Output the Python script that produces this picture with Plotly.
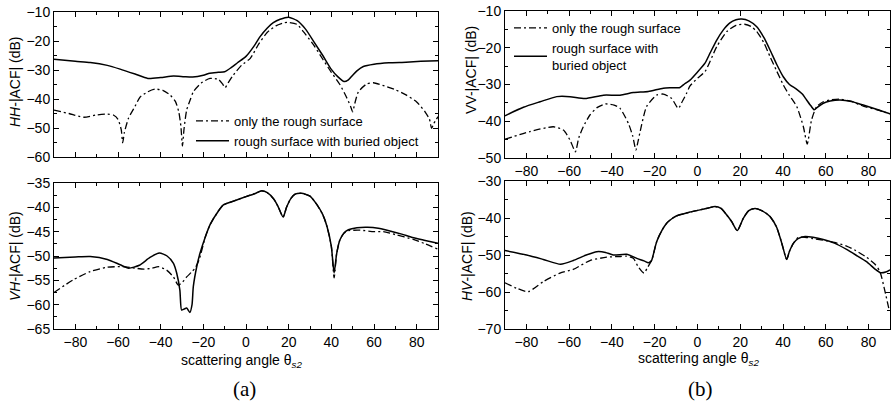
import plotly.graph_objects as go

# ---------------- data ----------------
# (a) top: HH
hh_solid_x = [-90,-80,-73,-65,-59,-52,-46,-40,-34,-29,-25,-20,-17,-13,-10,-7,-4,0,4,6.6,10,12.8,16,20,24,28,32,36,40,43,46,48,50,52,55,60,67,75,82,90]
hh_solid_y = [-26.3,-27.0,-27.4,-28.4,-29.7,-31.4,-32.9,-32.6,-32.1,-32.3,-32.4,-31.8,-31.1,-30.8,-30.6,-29.2,-27.5,-25.3,-21.5,-18.5,-15.5,-13.7,-12.5,-11.8,-13.0,-16.0,-20.5,-25.0,-29.8,-32.3,-34.0,-33.4,-31.8,-30.3,-28.8,-28.0,-27.5,-27.3,-27.0,-26.8]
hh_rough_x = [-90,-83,-76,-70,-65,-62,-60,-58.5,-57.8,-57,-55,-52,-49.7,-46,-42.7,-39,-35.6,-33,-31.5,-30.5,-29.8,-29,-27.8,-26,-24.7,-21,-16.9,-13,-11,-9.8,-8,-5.9,-2,2,6,10,14,18,20,24,28,32,36,40,44,47,49,50,51,52.7,56.6,59.7,65,70,75,80,84,86,87,88,90]
hh_rough_y = [-43.8,-45.0,-46.3,-45.5,-45.2,-45.6,-47.0,-50.5,-55.1,-51.5,-46.5,-42.5,-39.4,-37.5,-36.6,-37.0,-38.6,-41.0,-44.5,-49.5,-56.2,-50.0,-43.8,-40.0,-37.5,-34.5,-32.9,-33.2,-34.8,-36.1,-34.0,-31.7,-28.3,-26.0,-21.0,-17.0,-14.8,-13.7,-13.6,-14.3,-17.8,-21.7,-26.3,-30.8,-35.0,-39.2,-42.5,-44.4,-41.5,-37.5,-34.8,-34.4,-35.5,-36.8,-38.6,-41.0,-44.5,-47.0,-50.1,-48.5,-46.1]

# (a) bottom: VH
vh_solid_x = [-90,-80,-73,-65,-59,-55,-50,-45,-40.6,-37,-34,-32.5,-31,-30.2,-29,-27.8,-26.3,-25.3,-24.7,-23,-21.6,-19,-16.9,-13,-10.6,-7,-4.4,0,4,7.4,10,13,15,17.4,19,21,23,26,30,33,36,38,40,41.3,42.5,44,46,48,52,57,62,67,73,78,84,90]
vh_solid_y = [-50.4,-50.2,-50.1,-50.7,-51.8,-52.5,-51.9,-50.3,-49.4,-50.0,-51.5,-53.5,-57.0,-61.1,-60.9,-60.7,-61.6,-60.0,-56.3,-52.0,-49.5,-46.0,-43.6,-40.8,-39.5,-38.9,-38.5,-37.8,-37.2,-36.6,-37.0,-38.3,-39.8,-42.0,-40.0,-38.2,-37.3,-37.1,-37.7,-39.3,-41.5,-44.0,-48.0,-53.5,-49.5,-46.7,-45.2,-44.6,-44.2,-44.1,-44.3,-44.8,-45.5,-46.2,-46.8,-47.4]
vh_rough_x = [-90,-81,-73,-65,-57.8,-52,-48,-44,-41,-37.2,-34,-31.7,-29,-27.8,-25.5,-23.9,-22,-19,-16.9,-13,-10.6,-7,-4.4,0,4,7.4,10,13,15,17.4,19,21,23,26,30,33,36,38,40,41.3,42.5,44,46,48,53.5,60,64.4,70,78.4,84,90]
vh_rough_y = [-57.5,-54.9,-53.2,-52.3,-52.2,-52.5,-52.7,-52.5,-52.2,-52.9,-54.3,-56.0,-55.0,-54.3,-53.3,-52.5,-50.8,-46.0,-43.6,-40.8,-39.5,-38.9,-38.5,-37.8,-37.2,-36.6,-37.0,-38.3,-39.8,-42.0,-40.0,-38.2,-37.3,-37.1,-37.7,-39.3,-41.5,-44.0,-48.0,-54.5,-49.5,-46.7,-45.3,-44.8,-44.7,-45.0,-45.0,-45.6,-46.6,-47.5,-48.6]

# (b) top: VV
vv_solid_x = [-90,-81.4,-73.6,-65.8,-59.6,-52.6,-44,-36.2,-30,-23,-16,-12,-8.2,-6,-3.5,0,3.5,6,9,12,15,18,20.7,24,27.7,31,33.9,37,40.1,43,46.4,49,51,53,54.6,56,58.8,62,66.6,72,77.5,84,90]
vv_solid_y = [-38.5,-36.2,-34.7,-33.3,-33.3,-33.8,-32.9,-32.9,-32.2,-31.9,-31.0,-30.9,-30.8,-29.8,-28.8,-26.6,-24.2,-21.3,-17.9,-15.2,-13.3,-12.4,-12.2,-12.7,-14.3,-17.2,-20.6,-24.5,-27.9,-30.0,-31.3,-32.6,-34.2,-35.8,-36.9,-36.2,-35.1,-34.5,-34.2,-34.6,-35.6,-36.8,-38.0]
vv_rough_x = [-90,-78.3,-67.4,-62.7,-59.6,-57.1,-55.5,-53.4,-50.3,-47,-43.2,-39,-36.2,-32.3,-30.3,-28.8,-27.8,-27,-23.8,-19.1,-16,-12.1,-9,-7,-5.1,-3.5,0,3.5,9,13.7,18,22,25,27.7,31,33.9,37,40.1,43,46.4,49.5,51.3,53.3,55.7,58.8,62,66.6,72,77.5,84,90]
vv_rough_y = [-44.9,-42.8,-41.5,-42.4,-45.1,-48.3,-44.5,-41.5,-38.3,-36.3,-35.3,-35.6,-36.5,-40.6,-44.0,-47.8,-45.5,-43.3,-36.0,-32.9,-32.6,-33.8,-36.5,-34.5,-32.4,-30.4,-28.3,-26.5,-19.7,-15.6,-13.9,-13.6,-14.2,-15.6,-18.6,-22.4,-26.3,-30.1,-33.0,-36.0,-41.5,-46.2,-39.7,-36.0,-34.7,-34.2,-34.0,-34.6,-35.9,-36.9,-38.0]

# (b) bottom: HV
hv_solid_x = [-90,-79.9,-72.1,-64,-58.1,-52,-47.1,-43,-39.4,-33.1,-28.4,-25,-23,-22,-21.4,-19.1,-16.5,-14.4,-12,-9.7,-6,-3.5,1.2,5,8.2,11,13.7,16,18.6,21.4,24,26.9,30,33.9,37,39.4,41.7,43,44.9,47,50.3,54,58.8,64,69.7,74,79,83,85.6,88,90]
hv_solid_y = [-48.8,-50.0,-51.2,-52.5,-51.5,-50.0,-49.1,-49.3,-50.0,-49.8,-50.9,-51.6,-52.1,-51.8,-51.4,-46.4,-43.2,-41.4,-40.2,-39.4,-38.8,-38.4,-37.8,-37.3,-36.9,-37.4,-39.2,-41.0,-43.4,-40.1,-38.0,-37.4,-38.0,-39.6,-42.5,-46.8,-51.2,-49.0,-46.8,-45.6,-45.0,-45.2,-45.8,-46.8,-48.5,-50.0,-51.8,-53.8,-54.8,-54.6,-54.0]
hv_rough_x = [-90,-84.5,-79.1,-72.1,-64.3,-58.1,-50.3,-42.5,-36,-33.1,-30,-27.7,-25,-23.5,-21.4,-19.1,-16.5,-14.4,-12,-9.7,-6,-3.5,1.2,5,8.2,11,13.7,16,18.6,21.4,24,26.9,30,33.9,37,39.4,41.7,43,44.9,47,50.3,54,58.8,64,69.7,74,79,83,85.3,87.6,89.7]
hv_rough_y = [-57.5,-59.0,-59.9,-57.2,-54.9,-53.9,-51.5,-50.6,-50.4,-50.3,-50.9,-53.2,-54.9,-53.5,-51.4,-46.4,-43.2,-41.4,-40.2,-39.4,-38.8,-38.4,-37.8,-37.3,-36.9,-37.4,-39.2,-41.0,-43.4,-40.1,-38.0,-37.4,-38.0,-39.6,-42.5,-46.8,-51.2,-49.0,-46.8,-45.3,-45.2,-45.6,-46.0,-46.6,-47.6,-48.8,-50.6,-52.5,-54.5,-59.7,-65.1]

x_range = [-90, 90]
y_ranges = {"y": [-60, -10], "y2": [-65, -35], "y3": [-50, -10], "y4": [-70, -30]}
y_dticks = {"y": 10, "y2": 5, "y3": 10, "y4": 10}

name_rough = "only the rough surface"
name_obj = "rough surface with buried object"
name_obj2 = "rough surface with<br>buried object"

# ---------------- figure ----------------
W, H = 894, 409
FONT = "Liberation Sans, Arial, Helvetica, sans-serif"
DASH = "7px,3px,2px,3px"

fig = go.Figure()

def add_pair(rx, ry, sx, sy, xa, ya, legend=None, objname=name_obj):
    show = legend is not None
    fig.add_trace(go.Scatter(x=rx, y=ry, xaxis=xa, yaxis=ya, mode="lines",
                             name=name_rough, showlegend=show, legend=legend or "legend",
                             line=dict(color="black", width=1.3, dash=DASH, shape="spline", smoothing=0.6)))
    fig.add_trace(go.Scatter(x=sx, y=sy, xaxis=xa, yaxis=ya, mode="lines",
                             name=objname, showlegend=show, legend=legend or "legend",
                             line=dict(color="black", width=1.5, shape="spline", smoothing=0.6)))

add_pair(hh_rough_x, hh_rough_y, hh_solid_x, hh_solid_y, "x", "y", legend="legend")
add_pair(vh_rough_x, vh_rough_y, vh_solid_x, vh_solid_y, "x2", "y2")
add_pair(vv_rough_x, vv_rough_y, vv_solid_x, vv_solid_y, "x3", "y3", legend="legend2", objname=name_obj2)
add_pair(hv_rough_x, hv_rough_y, hv_solid_x, hv_solid_y, "x4", "y4")

def px_x(p):
    return p / W

def px_y(p):
    return 1 - p / H

common_axis = dict(showline=True, linecolor="black", linewidth=1, mirror="allticks",
                   ticks="inside", ticklen=5, tickwidth=1, tickcolor="black",
                   showgrid=False, zeroline=False, automargin=False,
                   tickfont=dict(family=FONT, size=14, color="black"))

left_dom = [px_x(54), px_x(438)]
right_dom = [px_x(505), px_x(890)]
doms_y = {"y": [px_y(157), px_y(12)], "y2": [px_y(329), px_y(183)],
          "y3": [px_y(158), px_y(11)], "y4": [px_y(329), px_y(181)]}

layout = dict(width=W, height=H, margin=dict(l=0, r=0, t=0, b=0, autoexpand=False),
              paper_bgcolor="white", plot_bgcolor="white",
              font=dict(family=FONT, color="black"))

for i, (xd, yk, showlab) in enumerate([(left_dom, "y", False), (left_dom, "y2", True),
                                       (right_dom, "y3", True), (right_dom, "y4", True)], start=1):
    xk = "xaxis" if i == 1 else f"xaxis{i}"
    yk_layout = "yaxis" if yk == "y" else "yaxis" + yk[1:]
    layout[xk] = dict(common_axis, domain=xd, range=x_range, anchor=yk, tick0=0, dtick=20,
                      showticklabels=showlab,
                      minor=dict(dtick=10, ticks="inside", ticklen=3, tickcolor="black", showgrid=False))
    dt = y_dticks[yk]
    layout[yk_layout] = dict(common_axis, domain=doms_y[yk], range=y_ranges[yk],
                             anchor="x" if i == 1 else f"x{i}", tick0=0, dtick=dt,
                             minor=dict(dtick=dt / 2, ticks="inside", ticklen=3, tickcolor="black", showgrid=False))

layout["legend"] = dict(x=px_x(191), y=px_y(106), xanchor="left", yanchor="top",
                        bgcolor="rgba(0,0,0,0)", font=dict(family=FONT, size=13, color="black"),
                        tracegroupgap=0, itemwidth=33)
layout["legend2"] = dict(x=px_x(509), y=px_y(13), xanchor="left", yanchor="top",
                         bgcolor="rgba(0,0,0,0)", font=dict(family=FONT, size=13, color="black"),
                         tracegroupgap=0, itemwidth=33)

fig.update_layout(**layout)

ann_font = dict(family=FONT, size=14, color="black")
annotations = [
    dict(text="<i>HH</i>-|ACF| (dB)", x=px_x(15), y=px_y(82), textangle=-90),
    dict(text="<i>VH</i>-|ACF| (dB)", x=px_x(15), y=px_y(256), textangle=-90),
    dict(text="VV-|ACF| (dB)", x=px_x(471), y=px_y(70), textangle=-90),
    dict(text="<i>HV</i>-|ACF| (dB)", x=px_x(467), y=px_y(256), textangle=-90),
    dict(text="scattering angle θ<sub><i>s2</i></sub>", x=px_x(242), y=px_y(361)),
    dict(text="scattering angle θ<sub><i>s2</i></sub>", x=px_x(698), y=px_y(359)),
]
for a in annotations:
    fig.add_annotation(xref="paper", yref="paper", showarrow=False, font=ann_font,
                       xanchor="center", yanchor="middle", **a)

serif = dict(family="Liberation Serif, Times New Roman, serif", size=21, color="black")
fig.add_annotation(text="(a)", x=px_x(245), y=px_y(389), xref="paper", yref="paper",
                   showarrow=False, font=serif, xanchor="center", yanchor="middle")
fig.add_annotation(text="(b)", x=px_x(700), y=px_y(389), xref="paper", yref="paper",
                   showarrow=False, font=serif, xanchor="center", yanchor="middle")

fig.write_html("out.html", config={"displayModeBar": False},
               post_script="document.body.style.margin='0';document.body.style.overflow='hidden';")
